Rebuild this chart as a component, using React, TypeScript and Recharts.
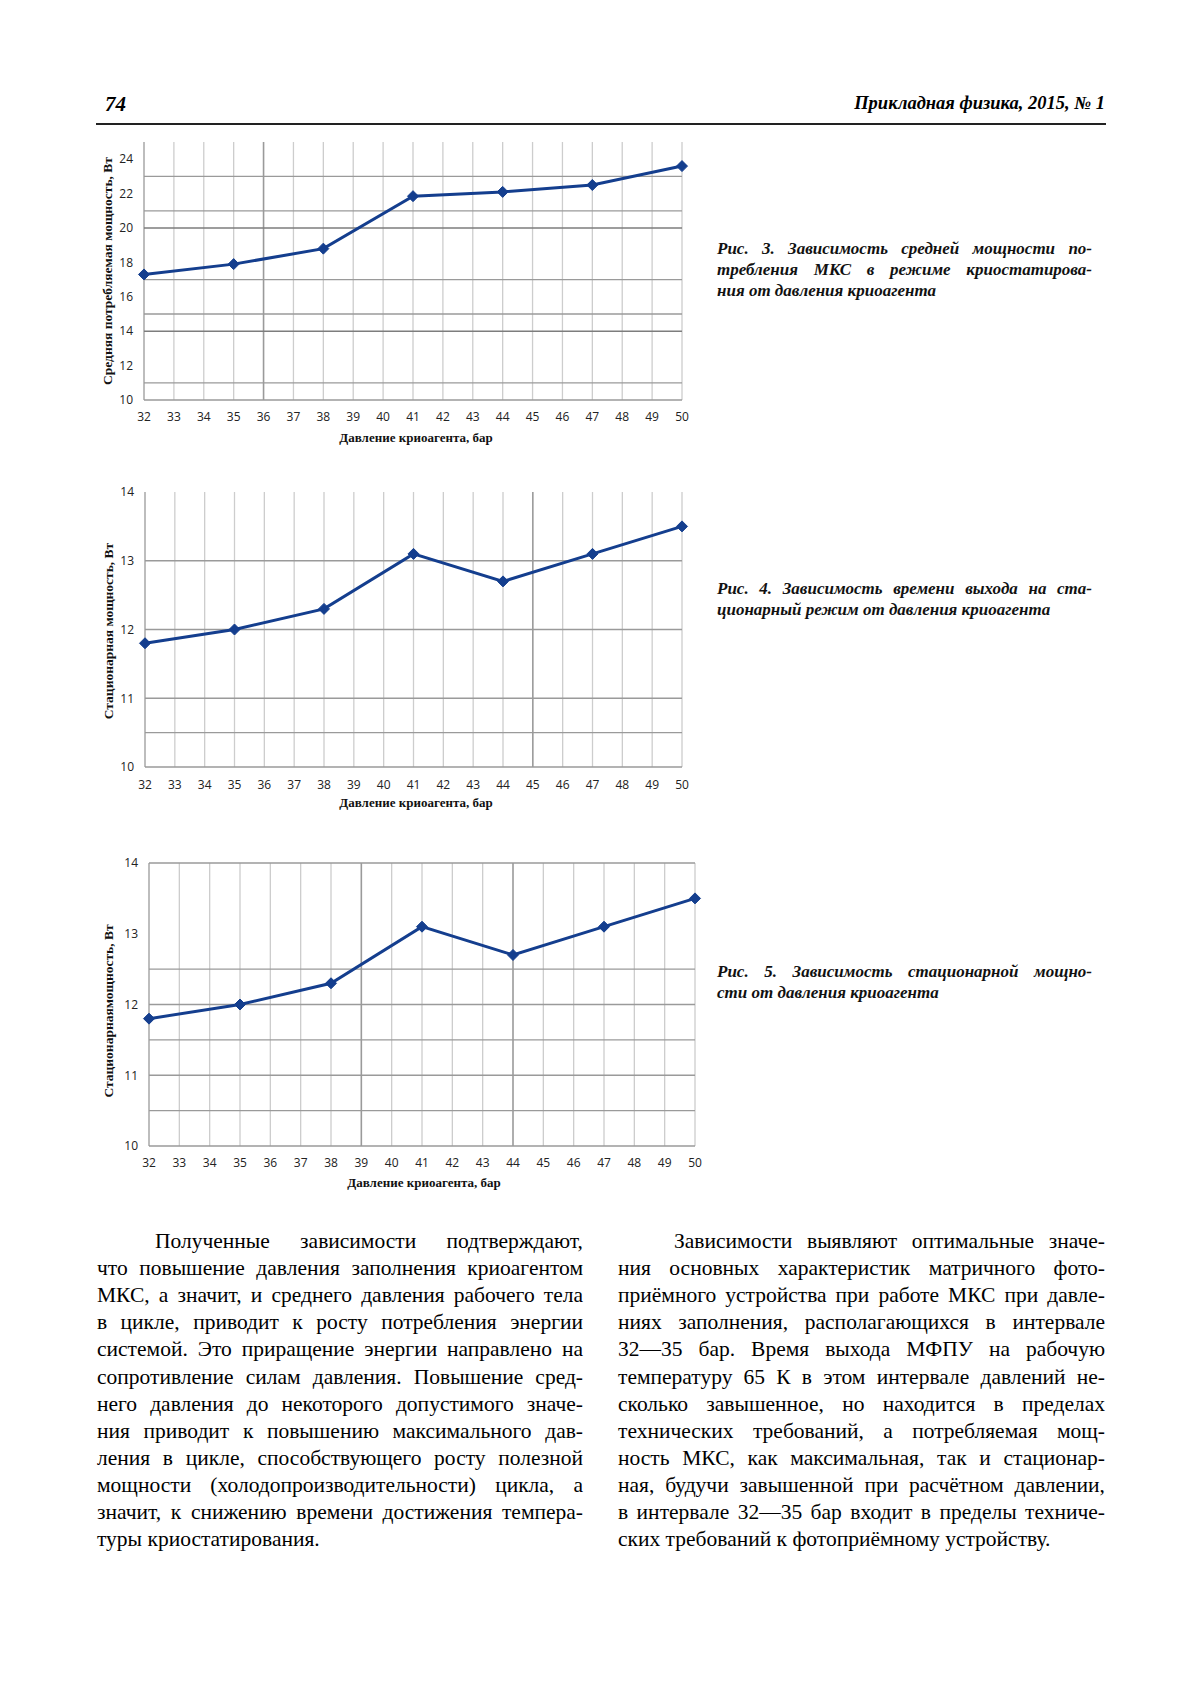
import React from "react";
import { Line, LineChart, ReferenceLine, XAxis, YAxis } from "recharts";

// pressure, bar
const pressure = [32, 35, 38, 41, 44, 47, 50];
const xTicks = [32, 33, 34, 35, 36, 37, 38, 39, 40, 41, 42, 43, 44, 45, 46, 47, 48, 49, 50];

// Fig. 3 — average consumed power, W
const fig3Power = [17.3, 17.9, 18.8, 21.85, 22.1, 22.5, 23.6];
const fig3YTicks = [10, 12, 14, 16, 18, 20, 22, 24];
const fig3HLines = [11, 15, 17, 21, 23];
const fig3HMajor = [14, 20];
const fig3VMajor = [36];

// Fig. 4 — stationary power, W
const fig4Power = [11.8, 12.0, 12.3, 13.1, 12.7, 13.1, 13.5];
const fig4YTicks = [10, 11, 12, 13, 14];
const fig4HLines = [10.5, 11, 12, 13];
const fig4HMajor: number[] = [];
const fig4VMajor = [45];

// Fig. 5 — stationary power, W
const fig5Power = [11.8, 12.0, 12.3, 13.1, 12.7, 13.1, 13.5];
const fig5YTicks = [10, 11, 12, 13, 14];
const fig5HLines = [10.5, 11, 11.5, 12, 12.5, 14];
const fig5HMajor: number[] = [];
const fig5VMajor = [39, 44];

const LINE_COLOR = "#143e8e";
const GRID_LIGHT = "#cdcdcd";
const GRID_MID = "#9a9a9a";
const GRID_DARK = "#7d7d7d";
const TICK_COLOR = "#222";

const leftLines = [
  "Полученные зависимости подтверждают,",
  "что повышение давления заполнения криоагентом",
  "МКС, а значит, и среднего давления рабочего тела",
  "в цикле, приводит к росту потребления энергии",
  "системой. Это приращение энергии направлено на",
  "сопротивление силам давления. Повышение сред-",
  "него давления до некоторого допустимого значе-",
  "ния приводит к повышению максимального дав-",
  "ления в цикле, способствующего росту полезной",
  "мощности (холодопроизводительности) цикла, а",
  "значит, к снижению времени достижения темпера-",
  "туры криостатирования.",
];

const rightLines = [
  "Зависимости выявляют оптимальные значе-",
  "ния основных характеристик матричного фото-",
  "приёмного устройства при работе МКС при давле-",
  "ниях заполнения, располагающихся  в интервале",
  "32—35 бар. Время выхода МФПУ на рабочую",
  "температуру 65 К в этом интервале давлений не-",
  "сколько завышенное, но находится в пределах",
  "технических требований, а потребляемая мощ-",
  "ность МКС, как максимальная, так и стационар-",
  "ная, будучи завышенной при расчётном давлении,",
  "в интервале 32—35 бар входит в пределы техниче-",
  "ских требований к фотоприёмному устройству.",
];

const captions = [
  {
    top: 238,
    lines: [
      "Рис. 3. Зависимость средней мощности по-",
      "требления МКС в режиме криостатирова-",
      "ния от давления криоагента",
    ],
  },
  {
    top: 578,
    lines: [
      "Рис. 4. Зависимость времени выхода на ста-",
      "ционарный режим от давления криоагента",
    ],
  },
  {
    top: 961,
    lines: [
      "Рис. 5. Зависимость стационарной мощно-",
      "сти от давления криоагента",
    ],
  },
];

function Diamond(props: any) {
  const { cx, cy, index } = props;
  if (cx == null || cy == null) return null;
  const r = 5.5;
  return (
    <polygon
      key={`d-${index}`}
      points={`${cx},${cy - r} ${cx + r},${cy} ${cx},${cy + r} ${cx - r},${cy}`}
      fill={LINE_COLOR}
      stroke={LINE_COLOR}
      strokeWidth={1}
    />
  );
}

type ChartProps = {
  left: number;
  top: number;
  width: number;
  height: number;
  margin: { top: number; right: number; left: number; bottom: number };
  values: number[];
  yDomain: [number, number];
  yTicks: number[];
  hLines: number[];
  hMajor: number[];
  vMajor: number[];
  tickMargin: number;
};

function PressureChart({
  left,
  top,
  width,
  height,
  margin,
  values,
  yDomain,
  yTicks,
  hLines,
  hMajor,
  vMajor,
  tickMargin,
}: ChartProps) {
  const data = pressure.map((p, i) => ({ p, v: values[i] }));
  const tickStyle = { fill: TICK_COLOR, fontSize: 12, fontFamily: "Open Sans" };

  return (
    <div style={{ position: "absolute", left, top }}>
      <LineChart width={width} height={height} data={data} margin={margin}>
        <XAxis
          dataKey="p"
          type="number"
          domain={[32, 50]}
          ticks={xTicks}
          interval={0}
          tickLine={false}
          tickSize={0}
          tickMargin={tickMargin}
          axisLine={{ stroke: GRID_MID, strokeWidth: 1.5 }}
          tick={tickStyle}
          height={30}
        />
        <YAxis
          type="number"
          domain={yDomain}
          ticks={yTicks}
          interval={0}
          tickLine={false}
          tickSize={0}
          tickMargin={11}
          axisLine={false}
          tick={tickStyle}
          width={30}
        />
        {xTicks.map((x) => (
          <ReferenceLine
            key={`v-${x}`}
            x={x}
            stroke={vMajor.includes(x) || x === 32 ? GRID_MID : GRID_LIGHT}
            strokeWidth={vMajor.includes(x) ? 1.6 : 1.3}
          />
        ))}
        {hLines.map((y) => (
          <ReferenceLine key={`h-${y}`} y={y} stroke={GRID_MID} strokeWidth={1.3} />
        ))}
        {hMajor.map((y) => (
          <ReferenceLine key={`hm-${y}`} y={y} stroke={GRID_DARK} strokeWidth={1.6} />
        ))}
        <Line
          type="linear"
          dataKey="v"
          stroke={LINE_COLOR}
          strokeWidth={3}
          dot={Diamond}
          activeDot={false}
          isAnimationActive={false}
        />
      </LineChart>
    </div>
  );
}

const axisTitle: React.CSSProperties = {
  position: "absolute",
  fontFamily: "Liberation Serif",
  fontWeight: "bold",
  fontSize: 13,
  color: "#111",
  whiteSpace: "nowrap",
};

function XTitle({ cx, cy }: { cx: number; cy: number }) {
  return (
    <div style={{ ...axisTitle, left: cx, top: cy, transform: "translate(-50%, -50%)" }}>
      Давление криоагента, бар
    </div>
  );
}

function YTitle({ cx, cy, text }: { cx: number; cy: number; text: string }) {
  return (
    <div
      style={{
        ...axisTitle,
        fontSize: 13.5,
        left: cx,
        top: cy,
        transform: "translate(-50%, -50%) rotate(-90deg)",
      }}
    >
      {text}
    </div>
  );
}

function TextColumn({
  left,
  width,
  indent,
  lines,
}: {
  left: number;
  width: number;
  indent: number;
  lines: string[];
}) {
  return (
    <>
      {lines.map((line, i) => {
        const last = i === lines.length - 1;
        const ind = i === 0 ? indent : 0;
        return (
          <div
            key={i}
            style={{
              position: "absolute",
              left: left + ind,
              top: 1228 + i * 27.1,
              width: width - ind,
              fontSize: 21.5,
              lineHeight: "27px",
              textAlign: last ? "left" : "justify",
              textAlignLast: last ? "left" : "justify",
              color: "#000",
            }}
          >
            {line}
          </div>
        );
      })}
    </>
  );
}

export default function App() {
  return (
    <div
      style={{
        position: "absolute",
        left: 0,
        top: 0,
        width: 1200,
        height: 1698,
        background: "#fff",
        fontFamily: "Liberation Serif",
        overflow: "hidden",
      }}
    >
      <div
        style={{
          position: "absolute",
          left: 105,
          top: 92,
          fontSize: 21,
          fontWeight: "bold",
          fontStyle: "italic",
        }}
      >
        74
      </div>
      <div
        style={{
          position: "absolute",
          right: 95,
          top: 93,
          fontSize: 18.5,
          fontWeight: "bold",
          fontStyle: "italic",
        }}
      >
        Прикладная физика, 2015, № 1
      </div>
      <div
        style={{
          position: "absolute",
          left: 96,
          top: 123,
          width: 1010,
          height: 1.5,
          background: "#222",
        }}
      />

      <PressureChart
        left={60}
        top={120}
        width={640}
        height={320}
        margin={{ top: 22, right: 18, left: 54, bottom: 10 }}
        values={fig3Power}
        yDomain={[10, 25]}
        yTicks={fig3YTicks}
        hLines={fig3HLines}
        hMajor={fig3HMajor}
        vMajor={fig3VMajor}
        tickMargin={12}
      />
      <YTitle cx={108} cy={271} text="Средняя потребляемая мощность, Вт" />
      <XTitle cx={416} cy={438} />

      <PressureChart
        left={60}
        top={470}
        width={640}
        height={340}
        margin={{ top: 22, right: 18, left: 55, bottom: 13 }}
        values={fig4Power}
        yDomain={[10, 14]}
        yTicks={fig4YTicks}
        hLines={fig4HLines}
        hMajor={fig4HMajor}
        vMajor={fig4VMajor}
        tickMargin={13}
      />
      <YTitle cx={109} cy={631} text="Стационарная мощность, Вт" />
      <XTitle cx={416} cy={803} />

      <PressureChart
        left={60}
        top={840}
        width={720}
        height={340}
        margin={{ top: 23, right: 85, left: 59, bottom: 4 }}
        values={fig5Power}
        yDomain={[10, 14]}
        yTicks={fig5YTicks}
        hLines={fig5HLines}
        hMajor={fig5HMajor}
        vMajor={fig5VMajor}
        tickMargin={12}
      />
      <YTitle cx={109} cy={1011} text="Стационарнаямощность, Вт" />
      <XTitle cx={424} cy={1183} />

      {captions.map((c, ci) =>
        c.lines.map((line, i) => {
          const last = i === c.lines.length - 1;
          return (
            <div
              key={`${ci}-${i}`}
              style={{
                position: "absolute",
                left: 717,
                top: c.top + i * 21.1,
                width: 375,
                fontSize: 17,
                lineHeight: "21px",
                fontWeight: "bold",
                fontStyle: "italic",
                textAlign: last ? "left" : "justify",
                textAlignLast: last ? "left" : "justify",
                color: "#111",
              }}
            >
              {line}
            </div>
          );
        })
      )}

      <TextColumn left={97} width={486} indent={58} lines={leftLines} />
      <TextColumn left={618} width={487} indent={56} lines={rightLines} />
    </div>
  );
}
